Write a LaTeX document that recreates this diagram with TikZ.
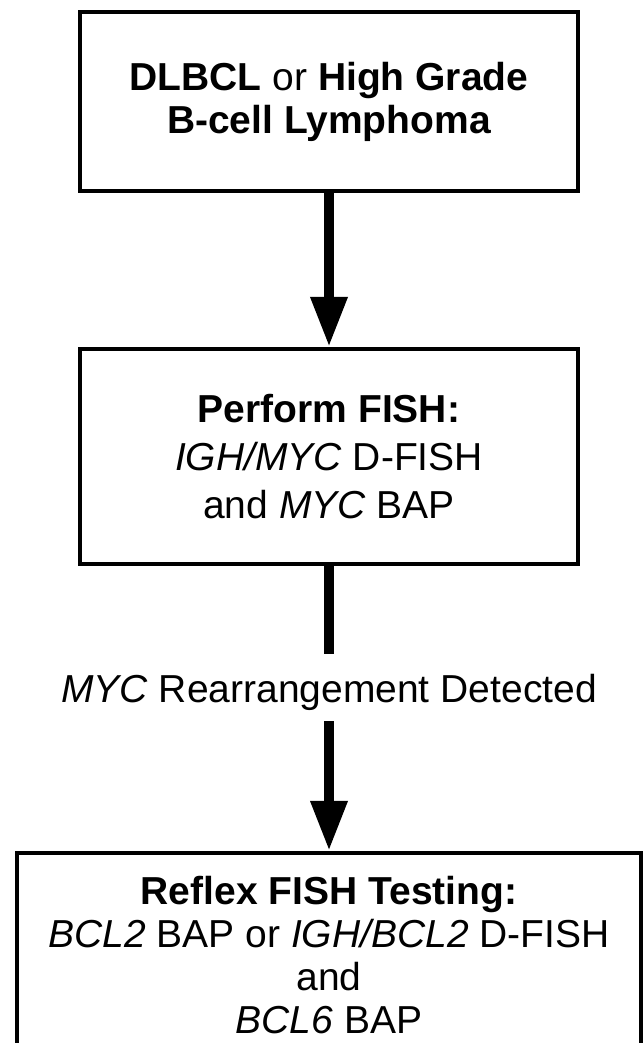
\documentclass[tikz,border=0pt]{standalone}
\usepackage{fontspec}
\setmainfont{Liberation Sans}
\usetikzlibrary{arrows.meta}

\tikzset{
  flowbox/.style={draw, line width=4.5pt, align=center, inner sep=0pt},
  shaft/.style={line width=10pt},
  shaftarrow/.style={line width=10pt, -{Triangle[width=35pt,length=50pt]}},
}

\begin{document}
\begin{tikzpicture}[x=1pt,y=1pt]

  \useasboundingbox (0,0) rectangle (644,-1043);
  \clip (0,0) rectangle (644,-1043);

  % boxes
  \node[flowbox, minimum width=498pt, minimum height=179pt,
        font=\fontsize{39}{43}\selectfont] (diag) at (329,-101.5)
    {\textbf{DLBCL} or \textbf{High Grade}\\\textbf{B-cell Lymphoma}};

  \node[flowbox, minimum width=498pt, minimum height=215pt,
        font=\fontsize{39}{48}\selectfont] (fish) at (329,-456.5)
    {\textbf{Perform FISH:}\\\textit{IGH/MYC} D-FISH\\and \textit{MYC} BAP};

  \node[flowbox, minimum width=624pt, minimum height=204pt,
        font=\fontsize{39}{42.7}\selectfont] (reflex) at (329,-955)
    {\textbf{Reflex FISH Testing:}\\\textit{BCL2} BAP or \textit{IGH/BCL2} D-FISH\\and\\\textit{BCL6} BAP};

  % result label
  \node[inner sep=0pt, anchor=base, font=\fontsize{39}{43}\selectfont] (myc) at (329,-702)
    {\textit{MYC} Rearrangement Detected};

  % arrows
  \draw[shaftarrow] (diag.south) -- (fish.north);
  \draw[shaft] (fish.south) -- ([yshift=19.5pt]myc.north);
  \draw[shaftarrow] ([yshift=-11pt]myc.south) -- (reflex.north);

\end{tikzpicture}
\end{document}
